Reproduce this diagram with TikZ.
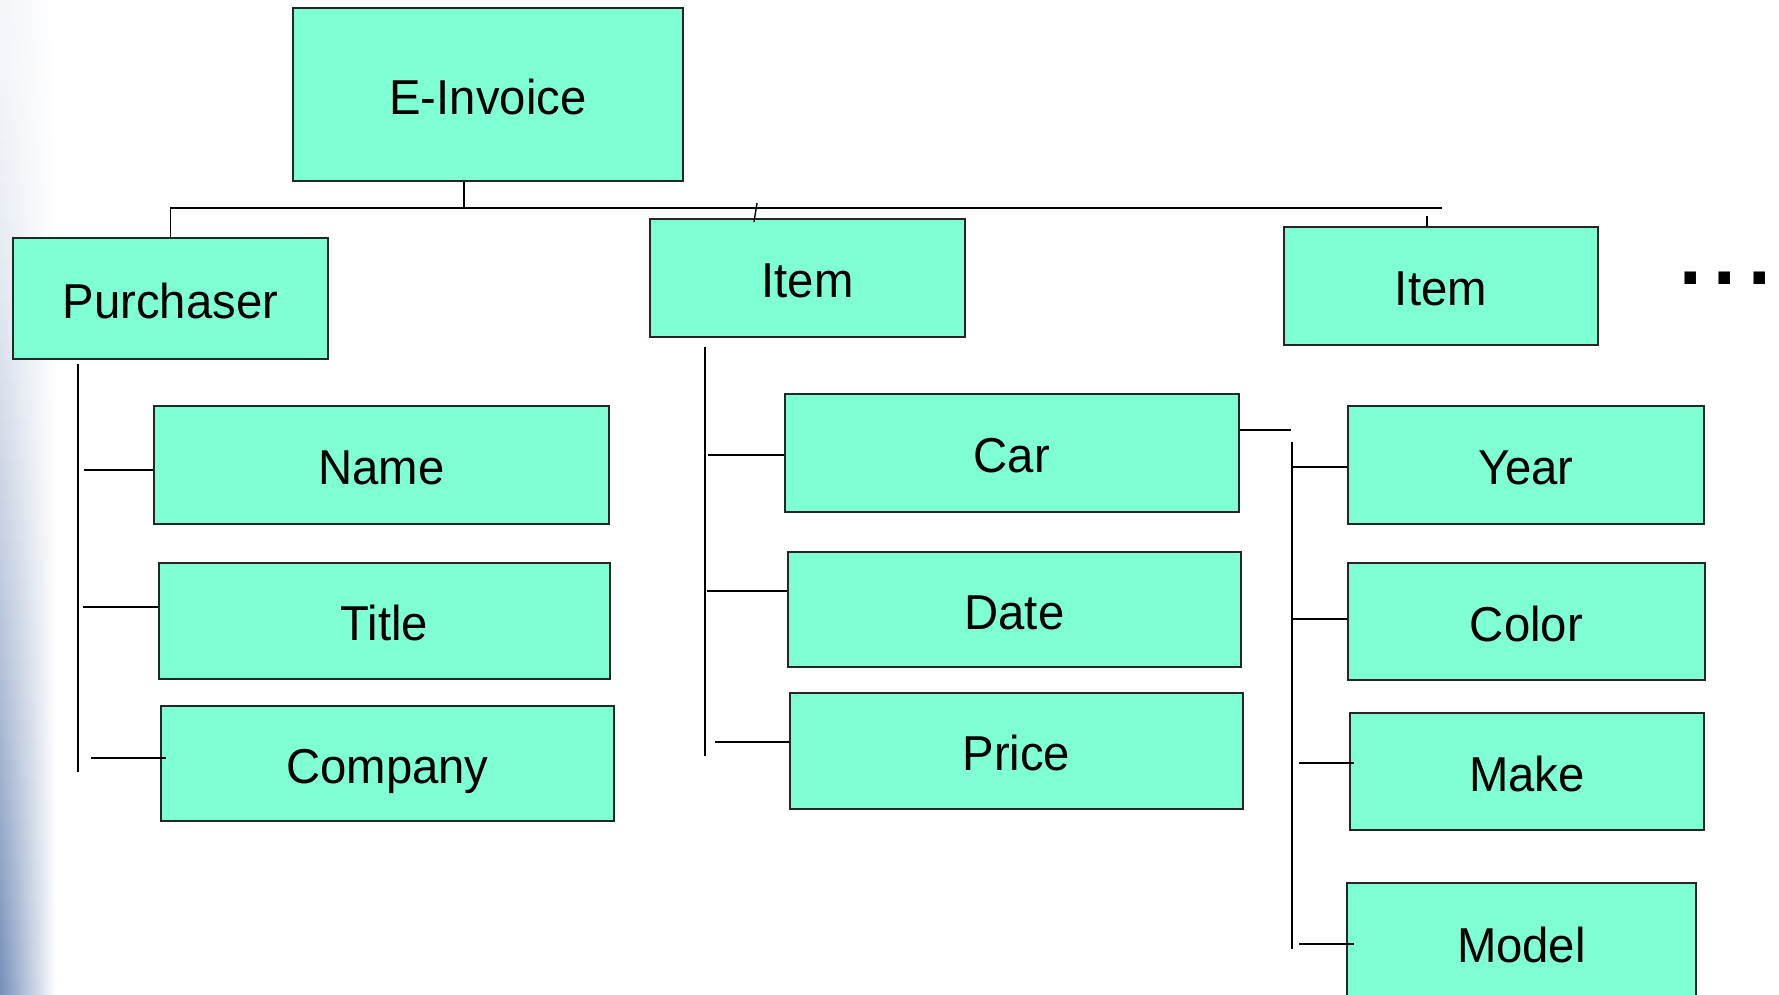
\documentclass[tikz,border=0pt]{standalone}
\usepackage{fontspec}
\setmainfont[FakeStretch=0.965]{Liberation Sans}
\definecolor{boxfill}{RGB}{127,255,212}
\definecolor{bgblue}{RGB}{100,128,176}
\begin{document}
\begin{tikzpicture}[x=1pt,y=-1pt,
  box/.style={draw=black!85, line width=1.8pt, fill=boxfill, anchor=north west,
    inner sep=0pt, text height=40pt, text depth=0pt, font=\fontsize{49}{58}\selectfont},
  conn/.style={draw=black, line width=1.4pt}]
\useasboundingbox (0,0) rectangle (1779,994);
\clip (0,0) rectangle (1779,994);
% slide background at the left edge
\foreach \i in {0,...,49} {
  \pgfmathsetmacro{\p}{8+80*(\i/49)^1.6}
  \shade[left color=bgblue!\p!white, right color=white, shading angle=90]
    (0,{\i*20}) rectangle (56,{\i*20+20.5});
}

% boxes
\node[box, minimum width=390pt, minimum height=173pt] (inv) at (292,7) {E-Invoice};
\node[box, minimum width=315pt, minimum height=121pt] (pur) at (12,237) {Purchaser};
\node[box, minimum width=315pt, minimum height=118pt] (item1) at (649,218) {Item};
\node[box, minimum width=314pt, minimum height=118pt] (item2) at (1283,226) {Item};

\node[box, minimum width=455pt, minimum height=118pt] (name) at (153,405) {Name};
\node[box, minimum width=451pt, minimum height=116pt] (title) at (158,562) {Title};
\node[box, minimum width=453pt, minimum height=115pt] (company) at (160,705) {Company};

\node[box, minimum width=454pt, minimum height=118pt] (car) at (784,393) {Car};
\node[box, minimum width=453pt, minimum height=115pt] (date) at (787,551) {Date};
\node[box, minimum width=453pt, minimum height=116pt] (price) at (789,692) {Price};

\node[box, minimum width=356pt, minimum height=118pt] (year) at (1347,405) {Year};
\node[box, minimum width=357pt, minimum height=117pt] (color) at (1347,562) {Color};
\node[box, minimum width=354pt, minimum height=117pt] (make) at (1349,712) {Make};
\node[box, minimum width=349pt, minimum height=119pt] (model) at (1346,882) {Model};

% ellipsis
\node[anchor=base west, inner sep=0pt, font=\bfseries\fontsize{84}{90}\selectfont]
  (dots) at (1679,284) {.\kern12pt.\kern12pt.};

% top level connectors
\coordinate (busL) at (170,208);
\coordinate (busR) at (1442,208);
\coordinate (invJ) at (464,208);
\draw[conn] (busL) -- (busR);
\draw[conn] (inv.south -| invJ) -- (invJ);
\draw[conn] (pur.north) -- (pur.north |- busL);
\coordinate (i1a) at (757,203);
\coordinate (i1b) at (754,222);
\draw[conn] (i1a) -- (i1b);
\coordinate (i2a) at (1427,216);
\draw[conn] (i2a) -- (item2.north -| i2a);

% purchaser children
\coordinate (pT) at (78,364);
\coordinate (pB) at (78,772);
\draw[conn] (pT) -- (pB);
\coordinate (nS) at (84,470);
\draw[conn] (nS) -- (name.west |- nS);
\coordinate (tS) at (83,607);
\draw[conn] (tS) -- (title.west |- tS);
\coordinate (cS) at (91,758);
\coordinate (cE) at (166,758);
\draw[conn] (cS) -- (cE);

% item children
\coordinate (iT) at (705,347);
\coordinate (iB) at (705,756);
\draw[conn] (iT) -- (iB);
\coordinate (carS) at (708,455);
\draw[conn] (carS) -- (car.west |- carS);
\coordinate (dS) at (707,591);
\draw[conn] (dS) -- (date.west |- dS);
\coordinate (prS) at (715,742);
\draw[conn] (prS) -- (price.west |- prS);

% car children
\coordinate (crE) at (1291,430);
\draw[conn] (car.east |- crE) -- (crE);
\coordinate (vT) at (1292,442);
\coordinate (vB) at (1292,949);
\draw[conn] (vT) -- (vB);
\coordinate (yS) at (1292,467);
\draw[conn] (yS) -- (year.west |- yS);
\coordinate (coS) at (1292,619);
\draw[conn] (coS) -- (color.west |- coS);
\coordinate (mS) at (1299,763);
\coordinate (mE) at (1354,763);
\draw[conn] (mS) -- (mE);
\coordinate (moS) at (1299,944);
\coordinate (moE) at (1354,944);
\draw[conn] (moS) -- (moE);
\end{tikzpicture}
\end{document}
